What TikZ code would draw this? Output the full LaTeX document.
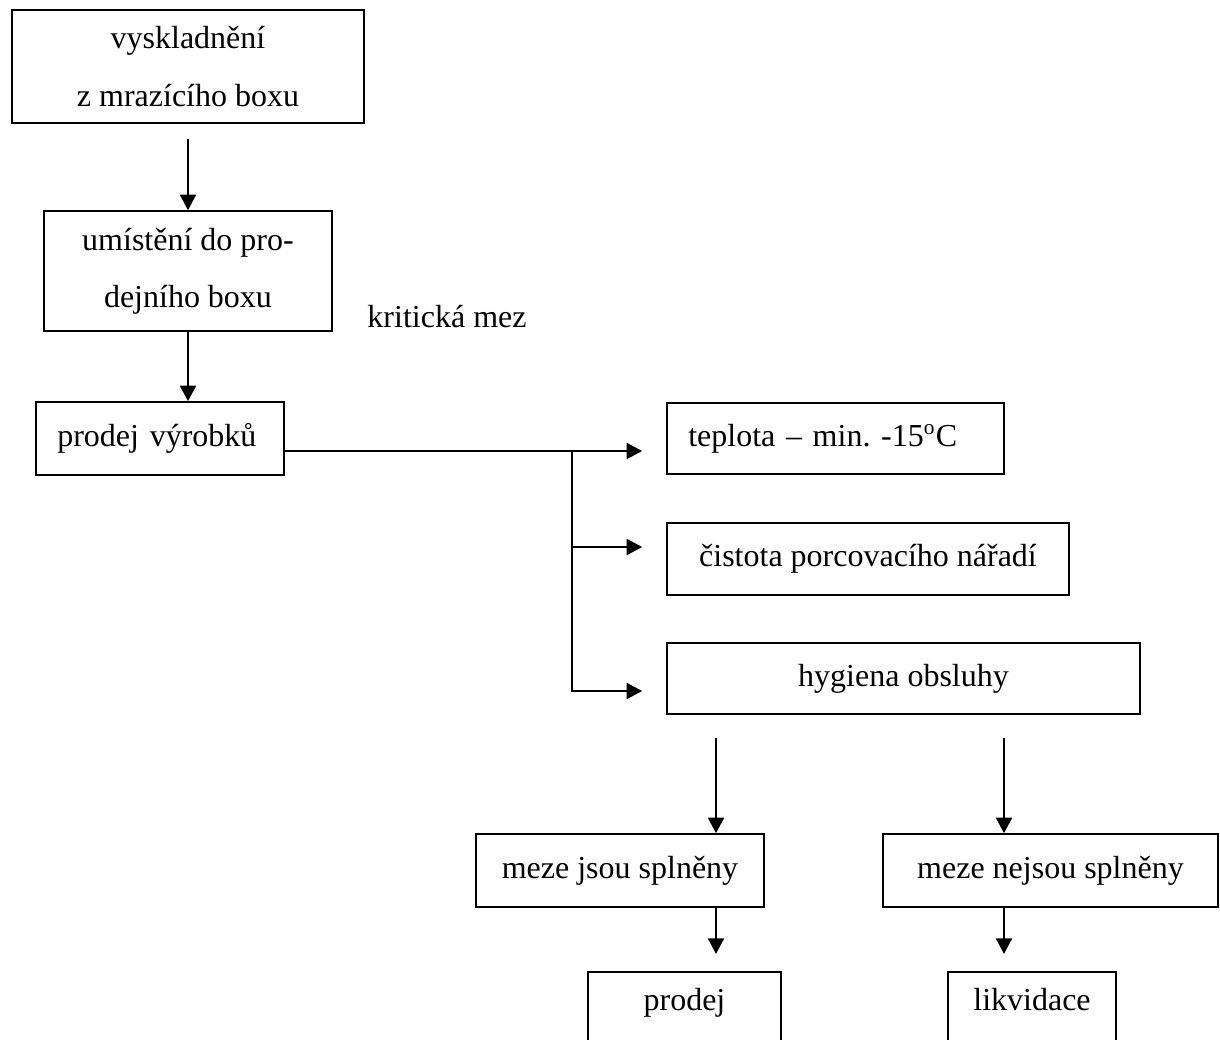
\documentclass[tikz,border=0pt]{standalone}
\usepackage{fontspec}
\setmainfont{Liberation Serif}
\usetikzlibrary{arrows.meta}
\frenchspacing

\begin{document}
\begin{tikzpicture}[x=0.375pt,y=-0.375pt,>={Triangle[length=5.8pt,width=6pt]},
  font=\fontsize{12pt}{21.4pt}\selectfont,line width=0.6pt,
  box/.style={draw,align=center,inner sep=0pt},
  leftbox/.style={draw,align=left,inner xsep=8pt,inner ysep=0pt},
  openbox/.style={draw,anchor=north,inner ysep=4pt,text height=10.6pt,text depth=40pt}]
\clip (0,0) rectangle (1220,1039);
\node[box,minimum width=132pt,minimum height=42.4pt] (vysk) at (188,66.5)
  {vyskladnění\\z mrazícího boxu};
\node[box,minimum width=108pt,minimum height=45pt] (umist) at (188,271)
  {umístění do pro-\\dejního boxu};
\node[leftbox,text width=77pt,minimum height=27.4pt] (prodejv) at (160,438.5)
  {prodej výrobků};
\node[anchor=base] (krit) at (447,327) {kritická mez};
\node[leftbox,text width=110.4pt,minimum height=26.6pt] (teplota) at (835.5,438.5)
  {teplota – min. -15\textsuperscript{o}C};
\node[box,minimum width=150.75pt,minimum height=27pt] (cistota) at (868,559)
  {čistota porcovacího nářadí};
\node[box,minimum width=177.4pt,minimum height=26.6pt] (hygiena) at (903.5,678.5)
  {hygiena obsluhy};
\node[box,minimum width=108pt,minimum height=27.4pt] (ano) at (620,870.5)
  {meze jsou splněny};
\node[box,minimum width=125.6pt,minimum height=27.4pt] (ne) at (1050.5,870.5)
  {meze nejsou splněny};
\node[openbox,minimum width=72.4pt] (prodej) at (684.5,971) {prodej};
\node[openbox,minimum width=63pt] (likv) at (1032,971) {likvidace};
\coordinate (split) at (572,451);
\coordinate (mid) at (572,547);
\coordinate (bend) at (572,691);
\coordinate (yes) at (716,738);
\coordinate (no) at (1004,738);
\draw[->,shorten <=5.6pt] (vysk) -- (umist);
\draw[->] (umist.south) -- (umist.south |- prodejv.north);
\draw[->,shorten >=9pt] (prodejv.east |- split) -- (teplota.west |- split);
\draw[->,shorten >=9pt] (mid) -- (cistota.west |- mid);
\draw[->,shorten >=9pt] (split) -- (bend) -- (hygiena.west |- bend);
\draw[->] (yes) -- (yes |- ano.north);
\draw[->] (no) -- (no |- ne.north);
\draw[->,shorten >=6.4pt] (yes |- ano.south) -- (yes |- prodej.north);
\draw[->,shorten >=6.4pt] (no |- ne.south) -- (no |- likv.north);
\end{tikzpicture}
\end{document}
